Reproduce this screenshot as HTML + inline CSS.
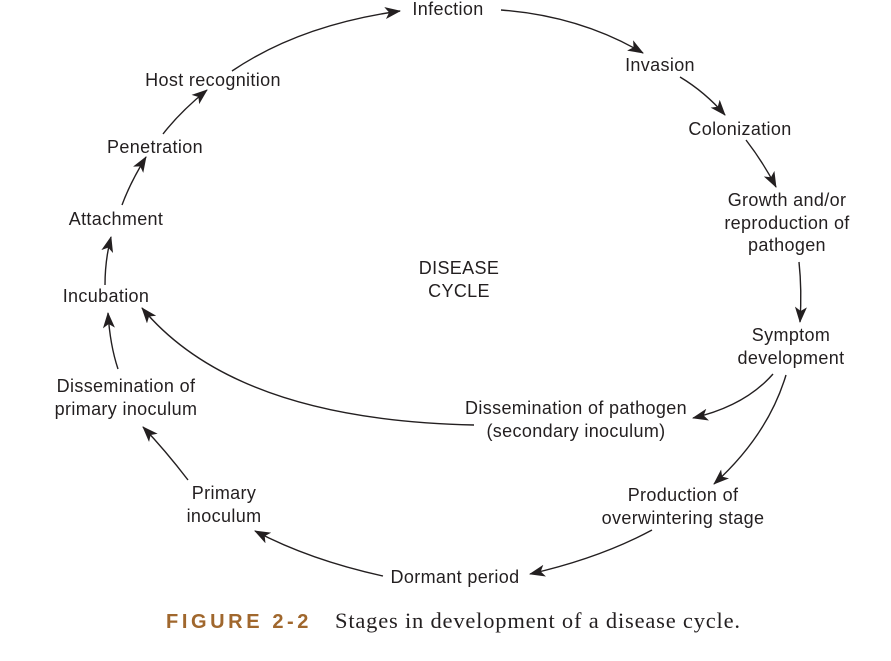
<!DOCTYPE html>
<html><head><style>
html,body{margin:0;padding:0;background:#fff;}
svg{display:block;}
text{font-family:"Liberation Sans","DejaVu Sans",sans-serif;font-size:18px;letter-spacing:0.35px;fill:#231f20;text-anchor:middle;}
</style></head><body>
<svg width="891" height="661" viewBox="0 0 891 661" xmlns="http://www.w3.org/2000/svg">
<defs>
<marker id="a" markerWidth="16" markerHeight="12" refX="15" refY="6" orient="auto" markerUnits="userSpaceOnUse">
<path d="M0,0 L16,6 L0,12 L4,6 z" fill="#231f20"/>
</marker>
</defs>
<g fill="none" stroke="#231f20" stroke-width="1.4" marker-end="url(#a)">
<path d="M232,71 Q300,25 400,11"/>
<path d="M501,10 Q580,16 643,53"/>
<path d="M680,77 Q705,92 725,115"/>
<path d="M746,140 Q763,162 776,187"/>
<path d="M799,262 Q802,290 800,322"/>
<path d="M773,374 Q745,406 693,418"/>
<path d="M786,375 Q768,435 714,484"/>
<path d="M652,530 Q600,558 530,574"/>
<path d="M383,576 Q310,560 255,531"/>
<path d="M188,480 Q165,450 143,427"/>
<path d="M118,369 Q110,345 108,313"/>
<path d="M105,285 Q105,260 111,237"/>
<path d="M122,205 Q130,183 146,157"/>
<path d="M163,134 Q180,112 207,90"/>
</g>
<path d="M474,425 Q235,420 142,308" fill="none" stroke="#231f20" stroke-width="1.4" marker-end="url(#a)"/>
<text x="448" y="15">Infection</text>
<text x="660" y="71">Invasion</text>
<text x="740" y="135">Colonization</text>
<text x="787" y="206">Growth and/or</text>
<text x="787" y="229">reproduction of</text>
<text x="787" y="251">pathogen</text>
<text x="459" y="274">DISEASE</text>
<text x="459" y="297">CYCLE</text>
<text x="791" y="341">Symptom</text>
<text x="791" y="364">development</text>
<text x="576" y="414">Dissemination of pathogen</text>
<text x="576" y="437">(secondary inoculum)</text>
<text x="683" y="501">Production of</text>
<text x="683" y="524">overwintering stage</text>
<text x="455" y="583">Dormant period</text>
<text x="224" y="499">Primary</text>
<text x="224" y="522">inoculum</text>
<text x="126" y="392">Dissemination of</text>
<text x="126" y="415">primary inoculum</text>
<text x="106" y="302">Incubation</text>
<text x="116" y="225">Attachment</text>
<text x="155" y="153">Penetration</text>
<text x="213" y="86">Host recognition</text>
<text x="166" y="628" style="text-anchor:start;font-weight:bold;fill:#a0672d;letter-spacing:3.6px;font-size:20px">FIGURE 2-2</text>
<text x="335" y="628" style="text-anchor:start;font-family:'Liberation Serif',serif;font-size:22.5px;letter-spacing:0.8px">Stages in development of a disease cycle.</text>
</svg>
</body></html>
